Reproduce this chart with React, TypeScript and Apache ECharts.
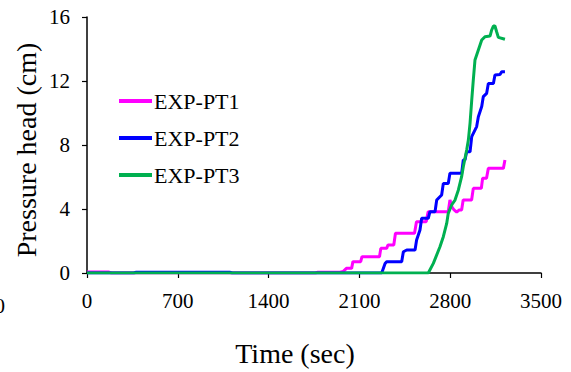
import React, { useEffect, useRef } from "react";
import * as echarts from "echarts";

const xTicks = { min: 0, max: 3500, interval: 700 };
const yTicks = { min: 0, max: 16, interval: 4 };
const seriesNames = ["EXP-PT1", "EXP-PT2", "EXP-PT3"];
const seriesColors = ["#FF00FF", "#0000FF", "#00B050"];

const pt1: [number, number][] = [
  [0, 0.06], [170, 0.06], [190, 0], [1760, 0], [1780, 0.05], [1950, 0.05], [1976, 0.1],
  [2000, 0.29], [2040, 0.29], [2050, 0.71], [2110, 0.71], [2120, 1.02], [2255, 1.02],
  [2265, 1.54], [2310, 1.54], [2320, 1.75], [2365, 1.75], [2378, 2.48], [2525, 2.48],
  [2540, 3.21], [2615, 3.21], [2630, 3.83], [2785, 3.83], [2798, 4.56], [2815, 4.1],
  [2830, 3.94], [2850, 3.8], [2870, 3.94], [2888, 3.94], [2900, 4.56], [2965, 4.56],
  [2978, 5.29], [3040, 5.29], [3050, 5.92], [3080, 5.92], [3094, 6.54], [3210, 6.54],
  [3222, 7.06],
];

const pt2: [number, number][] = [
  [0, 0], [360, 0], [380, 0.05], [1100, 0.05], [1120, 0], [2272, 0],
  [2298, 0.6], [2310, 0.71], [2426, 0.71], [2439, 1.33], [2465, 1.44], [2529, 1.44],
  [2541, 2.06], [2567, 2.69], [2580, 3.42], [2631, 3.42], [2644, 3.83], [2683, 3.83],
  [2696, 4.56], [2734, 4.88], [2747, 5.6], [2785, 5.6], [2798, 6.23], [2888, 6.23],
  [2901, 7.06], [2914, 7.06], [2927, 7.58], [2953, 7.58], [2966, 8.52], [3004, 9.15],
  [3017, 9.77], [3043, 10.4], [3055, 11.02], [3081, 11.23], [3094, 11.85], [3133, 11.85],
  [3145, 12.38], [3184, 12.4], [3197, 12.58], [3222, 12.58],
];

const pt3: [number, number][] = [
  [0, 0], [2631, 0], [2670, 0.6], [2721, 1.64], [2747, 2.27], [2773, 3.1], [2785, 3.73],
  [2811, 4.25], [2837, 4.56], [2863, 5.19], [2888, 6.02], [2901, 6.64], [2927, 7.69],
  [2940, 8.31], [2953, 9.37], [2966, 10.81], [2978, 12.06], [2991, 13.31], [3017, 13.94],
  [3043, 14.56], [3068, 14.77], [3107, 14.81], [3120, 15.19], [3133, 15.44], [3145, 15.44],
  [3158, 15.08], [3171, 14.73], [3222, 14.61],
];

const seriesData = [pt1, pt2, pt3];
const FONT = "Liberation Serif";

export default function App() {
  const ref = useRef<HTMLDivElement>(null);
  useEffect(() => {
    if (!ref.current) return;
    const chart = echarts.init(ref.current, undefined, { renderer: "svg" });
    chart.setOption({
      animation: false,
      backgroundColor: "#ffffff",
      textStyle: { fontFamily: FONT },
      grid: { left: 87, right: 30, top: 17, bottom: 99 },
      legend: {
        orient: "vertical",
        left: 119,
        top: 90,
        padding: 0,
        icon: "rect",
        itemWidth: 33,
        itemHeight: 4,
        itemGap: 15,
        data: seriesNames,
        textStyle: { fontFamily: FONT, fontSize: 22, color: "#000", lineHeight: 22, padding: [0, 0, 0, -3] },
      },
      xAxis: {
        type: "value",
        min: xTicks.min,
        max: xTicks.max,
        interval: xTicks.interval,
        splitLine: { show: false },
        axisLine: { show: true, lineStyle: { color: "#000", width: 1.5 } },
        axisTick: { show: true, length: 5, lineStyle: { color: "#000", width: 1.2 } },
        axisLabel: {
          fontFamily: FONT, fontSize: 21, color: "#000", margin: 17,
          formatter: (v: number) => String(v),
        },
      },
      yAxis: {
        type: "value",
        min: yTicks.min,
        max: yTicks.max,
        interval: yTicks.interval,
        splitLine: { show: false },
        axisLine: { show: true, lineStyle: { color: "#000", width: 1.5 } },
        axisTick: { show: true, length: 5, lineStyle: { color: "#000", width: 1.2 } },
        axisLabel: {
          fontFamily: FONT, fontSize: 21, color: "#000", margin: 17,
          formatter: (v: number) => String(v),
        },
      },
      graphic: [
        {
          type: "text",
          x: 295,
          y: 353,
          style: {
            text: "Time (sec)",
            fontFamily: FONT,
            fontSize: 28,
            fill: "#000",
            align: "center",
            verticalAlign: "middle",
          },
        },
        {
          type: "text",
          x: 26,
          y: 150,
          rotation: Math.PI / 2,
          style: {
            text: "Pressure head (cm)",
            fontFamily: FONT,
            fontSize: 28,
            fill: "#000",
            align: "center",
            verticalAlign: "middle",
          },
        },
        {
          type: "text",
          x: 5,
          y: 306,
          style: {
            text: "0",
            fontFamily: FONT,
            fontSize: 21,
            fill: "#000",
            align: "right",
            verticalAlign: "middle",
          },
        },
      ],
      series: seriesData.map((d, i) => ({
        name: seriesNames[i],
        type: "line",
        data: d,
        symbol: "none",
        showSymbol: false,
        color: seriesColors[i],
        itemStyle: { color: seriesColors[i] },
        lineStyle: { color: seriesColors[i], width: 3 },
        z: 2 + i,
      })),
    });
    return () => chart.dispose();
  }, []);
  return (
    <div
      ref={ref}
      style={{ position: "fixed", left: 0, top: 0, width: 571, height: 372 }}
    />
  );
}
